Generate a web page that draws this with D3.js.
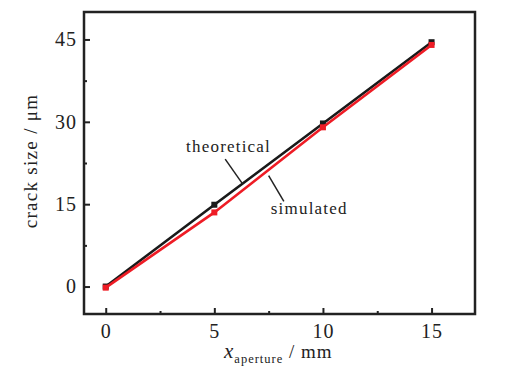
<!DOCTYPE html>
<html>
<head>
<meta charset="utf-8">
<script src="https://cdn.jsdelivr.net/npm/d3@7"></script>
<style>
  body { margin: 0; background: #fff; }
  text { font-family: "Liberation Serif", "Times New Roman", serif; fill: #222; }
</style>
</head>
<body>
<div id="chart"></div>
<script>
// values
const apertures = [0, 5, 10, 15];
const theoretical = [0, 14.9, 29.7, 44.5];
const simulated = [-0.2, 13.5, 29.0, 44.0];
const xTicks = [0, 5, 10, 15];
const yTicks = [0, 15, 30, 45];
const xMinor = [2.5, 7.5, 12.5];
const yMinor = [7.5, 22.5, 37.5];

const W = 505, H = 381;
const margin = {top: 12, right: 30, bottom: 67, left: 84};

const svg = d3.select("#chart").append("svg")
  .attr("width", W)
  .attr("height", H);

const x = d3.scaleLinear().domain([-1, 17]).range([margin.left, W - margin.right]);
const y = d3.scaleLinear().domain([-5, 50]).range([H - margin.bottom, margin.top]);

// axes, ticks pointing inward
svg.append("g")
  .attr("transform", "translate(0," + (H - margin.bottom) + ")")
  .call(d3.axisBottom(x).tickValues(xTicks).tickSizeInner(-6).tickSizeOuter(0).tickPadding(10));
svg.append("g")
  .attr("transform", "translate(0," + (H - margin.bottom) + ")")
  .call(d3.axisBottom(x).tickValues(xMinor).tickSizeInner(-3).tickSizeOuter(0).tickFormat(""));
svg.append("g")
  .attr("transform", "translate(" + margin.left + ",0)")
  .call(d3.axisLeft(y).tickValues(yTicks).tickSizeInner(-6).tickSizeOuter(0).tickPadding(7));
svg.append("g")
  .attr("transform", "translate(" + margin.left + ",0)")
  .call(d3.axisLeft(y).tickValues(yMinor).tickSizeInner(-3).tickSizeOuter(0).tickFormat(""));

svg.selectAll(".domain").remove();
svg.selectAll(".tick line").attr("stroke", "#222").attr("stroke-width", 2);
svg.selectAll(".tick text")
  .style("font-family", "'Liberation Serif', serif")
  .style("font-size", "20px")
  .style("letter-spacing", "1px")
  .attr("fill", "#222");

// frame
svg.append("rect")
  .attr("x", x(-1)).attr("y", y(50))
  .attr("width", x(17) - x(-1))
  .attr("height", y(-5) - y(50))
  .attr("fill", "none")
  .attr("stroke", "#222")
  .attr("stroke-width", 2.5);

// series
function drawSeries(vals, color) {
  const pts = apertures.map((a, i) => [a, vals[i]]);
  svg.append("path")
    .datum(pts)
    .attr("fill", "none")
    .attr("stroke", color)
    .attr("stroke-width", 2.6)
    .attr("d", d3.line().x(d => x(d[0])).y(d => y(d[1])));
  svg.selectAll(null)
    .data(pts)
    .enter().append("rect")
    .attr("x", d => x(d[0]) - 3)
    .attr("y", d => y(d[1]) - 3)
    .attr("width", 6)
    .attr("height", 6)
    .attr("fill", color);
}
drawSeries(theoretical, "#1a1a1a");
drawSeries(simulated, "#ee1c25");

// annotations
svg.append("text")
  .attr("x", x(3.7)).attr("y", y(24.5))
  .style("font-size", "17px")
  .style("letter-spacing", "1.2px")
  .text("theoretical");
svg.append("line")
  .attr("x1", x(5.5)).attr("y1", y(23.2))
  .attr("x2", x(6.3)).attr("y2", y(18.7))
  .attr("stroke", "#222").attr("stroke-width", 1.5);

svg.append("text")
  .attr("x", x(7.6)).attr("y", y(13.2))
  .style("font-size", "17px")
  .style("letter-spacing", "1.2px")
  .text("simulated");
svg.append("line")
  .attr("x1", x(7.5)).attr("y1", y(20.2))
  .attr("x2", x(8.2)).attr("y2", y(15.5))
  .attr("stroke", "#222").attr("stroke-width", 1.5);

// axis titles
svg.append("text")
  .attr("transform", "translate(37," + ((y(50) + y(-5)) / 2 - 2) + ") rotate(-90)")
  .attr("text-anchor", "middle")
  .style("font-size", "19px")
  .style("letter-spacing", "1.3px")
  .text("crack size / \u03bcm");

const xl = svg.append("text")
  .attr("x", 224)
  .attr("y", 358)
  .style("font-size", "19px")
  .style("letter-spacing", "1px");
xl.append("tspan").style("font-style", "italic").style("font-size", "21px").text("x");
xl.append("tspan").attr("dy", 5).style("font-size", "12.5px").text("aperture");
xl.append("tspan").attr("dy", -5).text(" / mm");
</script>
</body>
</html>
